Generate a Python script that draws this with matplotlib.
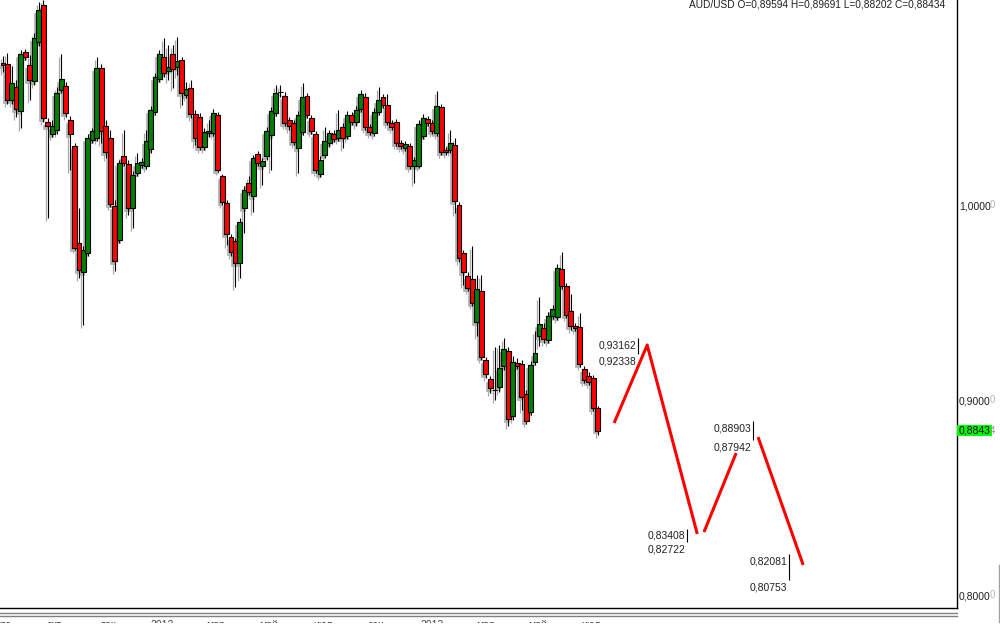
import matplotlib
matplotlib.use('Agg')
import matplotlib.pyplot as plt
import numpy as np
from matplotlib.lines import Line2D
from matplotlib.patches import Rectangle

plt.rcParams['font.family'] = ['Liberation Sans', 'DejaVu Sans']

# AUD/USD candles
opens = [1.0728, 1.0723, 1.0538, 1.0605, 1.0482, 1.0785, 1.0718, 1.0636, 1.0836, 1.1026,
         1.0426, 1.0364, 1.0385, 1.0590, 1.0610, 1.0436, 1.0303, 0.9805, 0.9656, 0.9754,
         1.0333, 1.0344, 1.0703, 1.0405, 1.0344, 0.9995, 0.9821, 1.0251, 1.0210, 0.9985,
         1.0164, 1.0205, 1.0200, 1.0287, 1.0477, 1.0646, 1.0759, 1.0687, 1.0774, 1.0708,
         1.0744, 1.0564, 1.0600, 1.0467, 1.0451, 1.0297, 1.0369, 1.0369, 1.0462, 1.0149,
         1.0010, 0.9836, 0.9815, 0.9703, 0.9985, 1.0113, 1.0046, 1.0262, 1.0200, 1.0251,
         1.0359, 1.0472, 1.0579, 1.0559, 1.0436, 1.0421, 1.0292, 1.0374, 1.0559, 1.0446,
         1.0364, 1.0159, 1.0256, 1.0318, 1.0364, 1.0344, 1.0400, 1.0354, 1.0462, 1.0426,
         1.0492, 1.0554, 1.0400, 1.0369, 1.0477, 1.0554, 1.0513, 1.0421, 1.0426, 1.0318,
         1.0292, 1.0303, 1.0200, 1.0200, 1.0354, 1.0441, 1.0421, 1.0369, 1.0503, 1.0282,
         1.0282, 1.0308, 1.0000, 0.9754, 0.9636, 0.9620, 0.9400, 0.9559, 0.9205, 0.9108,
         0.9051, 0.9067, 0.9174, 0.9251, 0.8918, 0.9190, 0.9185, 0.9031, 0.8938, 0.9195,
         0.9328, 0.9369, 0.9308, 0.9431, 0.9426, 0.9672, 0.9585, 0.9456, 0.9380, 0.9375,
         0.9159, 0.9123, 0.9113, 0.89594]
highs = [1.0764, 1.0780, 1.0713, 1.0641, 1.0795, 1.0800, 1.0769, 1.0882, 1.1041, 1.1051,
         1.0446, 1.0436, 1.0605, 1.0774, 1.0631, 1.0456, 1.0318, 0.9985, 0.9790, 1.0364,
         1.0395, 1.0759, 1.0723, 1.0436, 1.0385, 1.0026, 1.0231, 1.0385, 1.0231, 1.0174,
         1.0267, 1.0241, 1.0385, 1.0508, 1.0677, 1.0795, 1.0856, 1.0821, 1.0821, 1.0862,
         1.0759, 1.0631, 1.0641, 1.0487, 1.0472, 1.0395, 1.0436, 1.0492, 1.0477, 1.0159,
         1.0026, 0.9851, 0.9831, 0.9933, 1.0097, 1.0149, 1.0256, 1.0277, 1.0241, 1.0400,
         1.0503, 1.0615, 1.0615, 1.0579, 1.0451, 1.0436, 1.0482, 1.0626, 1.0574, 1.0462,
         1.0379, 1.0251, 1.0400, 1.0385, 1.0385, 1.0487, 1.0421, 1.0482, 1.0477, 1.0508,
         1.0590, 1.0574, 1.0415, 1.0497, 1.0605, 1.0569, 1.0569, 1.0436, 1.0441, 1.0333,
         1.0328, 1.0318, 1.0246, 1.0436, 1.0467, 1.0456, 1.0436, 1.0585, 1.0518, 1.0297,
         1.0385, 1.0344, 1.0015, 0.9769, 0.9656, 0.9790, 0.9641, 0.9641, 0.9221, 0.9123,
         0.9272, 0.9282, 0.9318, 0.9272, 0.9226, 0.9215, 0.9205, 0.9051, 0.9200, 0.9354,
         0.9528, 0.9395, 0.9451, 0.9487, 0.9697, 0.9759, 0.9600, 0.9544, 0.9395, 0.9446,
         0.9174, 0.9144, 0.9128, 0.89691]
lows = [1.0682, 1.0518, 1.0518, 1.0451, 1.0395, 1.0744, 1.0538, 1.0615, 1.0815, 1.0426,
        0.9933, 1.0349, 1.0364, 1.0574, 1.0451, 1.0180, 0.9769, 0.9626, 0.9385, 0.9738,
        1.0318, 1.0328, 1.0318, 1.0241, 0.9990, 0.9662, 0.9805, 1.0200, 0.9949, 0.9882,
        1.0149, 1.0190, 1.0185, 1.0267, 1.0462, 1.0631, 1.0656, 1.0641, 1.0600, 1.0667,
        1.0513, 1.0549, 1.0446, 1.0308, 1.0282, 1.0282, 1.0349, 1.0354, 1.0169, 1.0000,
        0.9795, 0.9738, 0.9580, 0.9626, 0.9856, 1.0051, 0.9964, 1.0200, 1.0103, 1.0231,
        1.0180, 1.0456, 1.0554, 1.0405, 1.0385, 1.0308, 1.0164, 1.0359, 1.0446, 1.0364,
        1.0164, 1.0144, 1.0241, 1.0297, 1.0323, 1.0328, 1.0292, 1.0338, 1.0410, 1.0405,
        1.0477, 1.0385, 1.0359, 1.0354, 1.0462, 1.0497, 1.0410, 1.0385, 1.0303, 1.0287,
        1.0277, 1.0185, 1.0113, 1.0190, 1.0338, 1.0405, 1.0364, 1.0354, 1.0256, 1.0256,
        1.0267, 0.9959, 0.9708, 0.9590, 0.9559, 0.9482, 0.9328, 0.9205, 0.9113, 0.9036,
        0.9000, 0.9041, 0.9154, 0.8867, 0.8897, 0.9159, 0.8949, 0.8877, 0.8923, 0.9179,
        0.9277, 0.9292, 0.9292, 0.9415, 0.9410, 0.9569, 0.9421, 0.9359, 0.9354, 0.9169,
        0.9087, 0.9077, 0.8944, 0.88202]
closes = [1.0718, 1.0538, 1.0626, 1.0492, 1.0774, 1.0759, 1.0641, 1.0856, 1.1000, 1.0446,
          1.0405, 1.0405, 1.0574, 1.0646, 1.0472, 1.0364, 0.9780, 0.9667, 0.9769, 1.0344,
          1.0379, 1.0703, 1.0379, 1.0272, 1.0005, 0.9713, 1.0215, 1.0215, 0.9985, 1.0154,
          1.0215, 1.0221, 1.0328, 1.0487, 1.0656, 1.0774, 1.0677, 1.0708, 1.0697, 1.0739,
          1.0574, 1.0595, 1.0467, 1.0344, 1.0297, 1.0374, 1.0379, 1.0472, 1.0180, 1.0015,
          0.9851, 0.9759, 0.9703, 0.9913, 1.0077, 1.0067, 1.0241, 1.0215, 1.0226, 1.0379,
          1.0482, 1.0574, 1.0579, 1.0421, 1.0405, 1.0323, 1.0462, 1.0554, 1.0462, 1.0379,
          1.0180, 1.0231, 1.0328, 1.0369, 1.0338, 1.0385, 1.0344, 1.0462, 1.0426, 1.0487,
          1.0569, 1.0400, 1.0374, 1.0477, 1.0538, 1.0513, 1.0426, 1.0400, 1.0318, 1.0303,
          1.0313, 1.0200, 1.0231, 1.0415, 1.0446, 1.0421, 1.0379, 1.0508, 1.0272, 1.0272,
          1.0318, 1.0021, 0.9728, 0.9656, 0.9574, 0.9497, 0.9569, 0.9221, 0.9133, 0.9062,
          0.9051, 0.9164, 0.9262, 0.8903, 0.9195, 0.9174, 0.9015, 0.8892, 0.9179, 0.9241,
          0.9390, 0.9313, 0.9431, 0.9467, 0.9677, 0.9585, 0.9436, 0.9380, 0.9369, 0.9185,
          0.9103, 0.9092, 0.8959, 0.88434]

# projected path (bar index, price), three separate legs
leg1_x = [136.7, 144.1, 155.3]
leg1_y = [0.8882, 0.9282, 0.8313]
leg2_x = [156.8, 164.0]
leg2_y = [0.8323, 0.8728]
leg3_x = [168.9, 179.0]
leg3_y = [0.8810, 0.8154]

# target zones: bar index, upper and lower level
zone_x = [142.0, 153.0, 167.8, 175.8]
zone_hi = [0.93162, 0.83408, 0.88903, 0.82081]
zone_lo = [0.92338, 0.82722, 0.87942, 0.80753]

price_ticks = [0.8, 0.9, 1.0]
price_labels = ['0,8000', '0,9000', '1,0000']
last_price = 0.8843
date_ticks = [0, 11.5, 23.5, 35.5, 47.5, 59.5, 71.5, 83.5, 96, 108, 119.5, 131.5]
date_labels = ['авг', 'окт', 'дек', '2012', 'мар', 'май', 'июл', 'сен', '2013', 'мар', 'май', 'июл']
header = 'AUD/USD O=0,89594 H=0,89691 L=0,88202 C=0,88434'

o = np.array(opens)
h = np.array(highs)
l = np.array(lows)
c = np.array(closes)
x = np.arange(len(o))

fig = plt.figure(figsize=(10, 6.38), dpi=100)
fig.patch.set_facecolor('white')
ax = fig.add_axes([0, 30 / 638, 0.957, 608 / 638])

body_lo = np.minimum(o, c)
body_h = np.abs(c - o)
cols = np.where(c > o, '#008000', np.where(c < o, '#ff0000', 'black'))

# gray drop shadow behind every candle
sh_dx, sh_dy = -0.45, -0.0015
ax.vlines(x + sh_dx, l + sh_dy, h + sh_dy, color='#a8a8a8', lw=0.9, zorder=1)
ax.bar(x + sh_dx, body_h, bottom=body_lo + sh_dy, width=1.1, color='#b0b0b0',
       edgecolor='#b0b0b0', lw=0.5, zorder=1)

# candles
ax.vlines(x, l, h, color='black', lw=0.8, zorder=2)
ax.bar(x, body_h, bottom=body_lo, width=1.1, color=cols, edgecolor='black', lw=0.8, zorder=3)

# projection
for lx, ly in [(leg1_x, leg1_y), (leg2_x, leg2_y), (leg3_x, leg3_y)]:
    ax.plot(lx, ly, color='#ff0000', lw=2.2, solid_capstyle='butt', zorder=4)

for zx, zh, zl in zip(zone_x, zone_hi, zone_lo):
    ax.vlines(zx, zl, zh, color='black', lw=0.8, zorder=4)
    ax.annotate(f'{zh:.5f}'.replace('.', ','), (zx, zh), xytext=(-1, -1.2),
                textcoords='offset points', ha='right', va='top', fontsize=7.5, color='#202020')
    ax.annotate(f'{zl:.5f}'.replace('.', ','), (zx, zl), xytext=(-1, -1.5),
                textcoords='offset points', ha='right', va='top', fontsize=7.5, color='#202020')

ax.set_xlim(-0.67, 213.4)
ax.set_ylim(0.79334, 1.10513)

for s in ['top', 'left']:
    ax.spines[s].set_visible(False)
ax.spines['right'].set_linewidth(1.0)
ax.spines['bottom'].set_linewidth(1.0)

ax.yaxis.tick_right()
ax.set_yticks(price_ticks)
ax.set_yticklabels(price_labels)
ax.tick_params(axis='y', length=0, pad=1.5, labelsize=7.5, labelcolor='#202020')
ytr = ax.get_yaxis_transform()
for v in price_ticks:
    ax.annotate('0', (1, v), xycoords=ytr, xytext=(23.6, 0), textcoords='offset points',
                ha='left', va='center', fontsize=7, color='#b4b4b4', annotation_clip=False)

# last price marker
ax.add_patch(Rectangle((1.0005, last_price - 0.0029), 0.0365, 0.0058, transform=ytr,
                       facecolor='#00ff00', edgecolor='none', clip_on=False, zorder=5))
ax.annotate(f'{last_price:.4f}'.replace('.', ','), (1, last_price), xycoords=ytr,
            xytext=(1.1, 0), textcoords='offset points', ha='left', va='center',
            fontsize=7.5, color='black', zorder=6, annotation_clip=False)
ax.annotate('4', (1, last_price), xycoords=ytr, xytext=(23.6, 0), textcoords='offset points',
            ha='left', va='center', fontsize=7, color='#909090', zorder=6, annotation_clip=False)

ax.set_xticks(date_ticks)
ax.set_xticklabels(date_labels)
ax.tick_params(axis='x', length=0, pad=8.6, labelsize=7.5, labelcolor='#404040')

fig.text(945 / 1000, 1 - 4.5 / 638, header, ha='right', va='center', fontsize=7.3, color='#202020')

# double gray rule under the chart, plus the cut-off bottom strip
for py in [613, 616]:
    fig.add_artist(Line2D([0, 0.957], [(638 - py) / 638] * 2, color='#808080', lw=1.0))
fig.add_artist(Rectangle((0, 0), 1, (638 - 623) / 638, transform=fig.transFigure,
                         facecolor='white', edgecolor='none', zorder=10))
fig.add_artist(Line2D([0.9985, 0.9985], [(638 - 622) / 638, (638 - 565) / 638],
                      color='#a0a0a0', lw=1.0, zorder=11))

fig.savefig('out.png', dpi=100)
